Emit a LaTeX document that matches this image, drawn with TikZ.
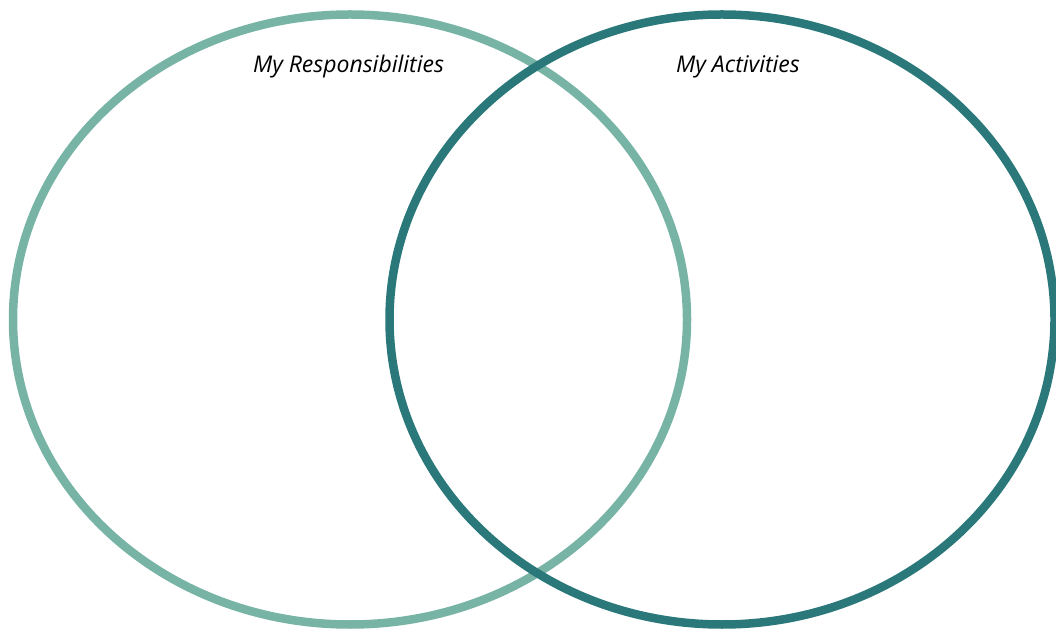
\documentclass[tikz,border=0pt]{standalone}
\usepackage{fontspec}
\setmainfont{Open Sans}
\usepackage{tikz}
\usetikzlibrary{shapes.geometric, positioning}

\definecolor{lightteal}{RGB}{120,180,165}
\definecolor{darkteal}{RGB}{42,120,122}

\begin{document}
\begin{tikzpicture}[x=1pt,y=1pt,
    ring/.style={ellipse, draw, line width=8.5pt, inner sep=0pt},
    title/.style={font=\fontsize{23}{27}\selectfont\itshape, inner sep=0pt, anchor=base}]
        \useasboundingbox (0,0) rectangle (1056,629);

        \node[ring, lightteal, minimum width=674pt, minimum height=610pt] (resp) at (350,309.5) {};
        \node[ring, darkteal,  minimum width=665pt, minimum height=610pt] (act)  at (722,309.5) {};

        \node[title] (resp_lbl) at (348.5,556) {My Responsibilities};
        \node[title] (act_lbl)  at (738,556)   {My Activities};
    \end{tikzpicture}
\end{document}
